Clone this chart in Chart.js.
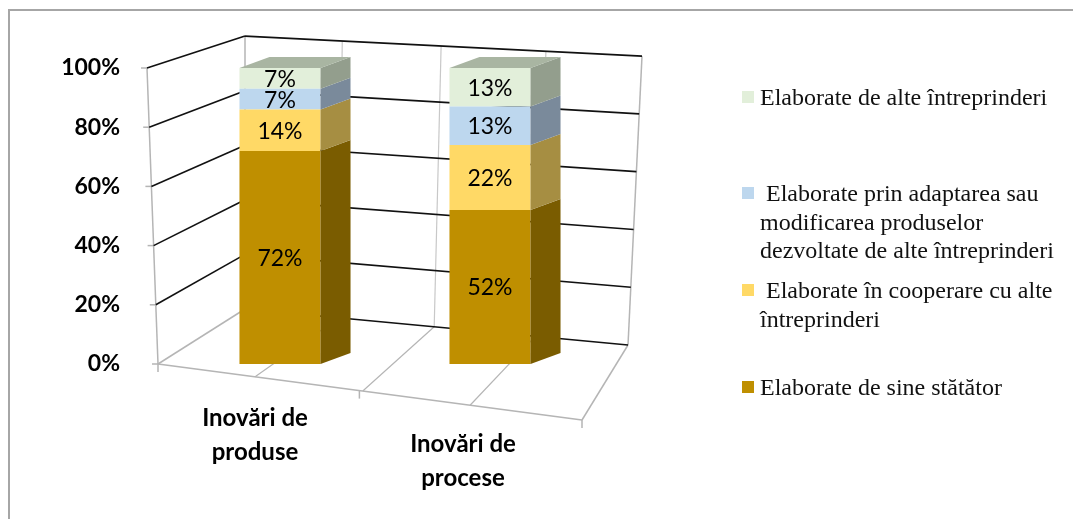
<!DOCTYPE html>
<html>
<head>
<meta charset="utf-8">
<script src="https://cdn.jsdelivr.net/npm/chart.js@4.4.1/dist/chart.umd.min.js"></script>
<style>
body { margin: 0; background: #fff; }
#wrap { position: relative; width: 1073px; height: 519px; overflow: hidden; }
#frame { position: absolute; left: 8px; top: 9px; width: 1080px; height: 520px; border-top: 2px solid #a6a6a6; border-left: 2px solid #a6a6a6; }
canvas { position: absolute; left: 0; top: 0; }
#legend { position: absolute; left: 742px; top: 0; font-family: "Liberation Serif", serif; font-size: 24px; color: #111; }
.item { position: absolute; left: 0; width: 330px; line-height: 28.5px; }
.sw { position: absolute; left: 0; top: 8px; width: 12px; height: 12px; }
.txt { position: absolute; left: 18px; top: 0; width: 312px; white-space: pre-wrap; }
</style>
</head>
<body>
<div id="wrap">
  <div id="frame"></div>
  <canvas id="chart" width="1073" height="519"></canvas>
  <div id="legend"></div>
</div>
<script>
// categories and series (bottom of stack first)
const categories = [['Inovări de', 'produse'], ['Inovări de', 'procese']];
const seriesNames = [
  'Elaborate de sine stătător',
  ' Elaborate în cooperare cu alte întreprinderi',
  ' Elaborate prin adaptarea sau modificarea produselor dezvoltate de alte întreprinderi',
  'Elaborate de alte întreprinderi'
];
const ownValues = [72, 52];
const coopValues = [14, 22];
const adaptedValues = [7, 13];
const othersValues = [7, 13];
const yTicks = [0, 20, 40, 60, 80, 100];

const frontColors = ['#bf8f00', '#ffd966', '#bdd7ee', '#e2efda'];
const sideColors = ['#7a5c00', '#a68e42', '#7a8a9b', '#939e8d'];
const topColor = '#a9b5a2';
const DX = 30, DY = -11;

// 3D box, walls and floor drawn behind the bars
const wallsPlugin = {
  id: 'walls',
  beforeDatasetsDraw(chart) {
    const { ctx, chartArea: a, scales: { y } } = chart;
    const y0 = y.getPixelForValue(0), y100 = y.getPixelForValue(100);
    const fl = v => {
      const py = y.getPixelForValue(v);
      return [a.left - 17 - 11 * (y0 - py) / (y0 - y100), py];
    };
    const bl = v => [a.left + 70, a.bottom - 55 - (a.bottom - y.getPixelForValue(v)) * 0.922];
    const br = v => {
      const d = (a.bottom - y.getPixelForValue(v));
      return [a.right + 33 + 14 * d / (y0 - y100), a.bottom - 19 - d * 0.976];
    };
    const fr = [a.right - 13, a.bottom + 56];
    const lerp = (p, q, t) => [p[0] + (q[0] - p[0]) * t, p[1] + (q[1] - p[1]) * t];
    const line = (p, q, color, w) => {
      ctx.beginPath();
      ctx.moveTo(p[0], p[1]);
      ctx.lineTo(q[0], q[1]);
      ctx.strokeStyle = color;
      ctx.lineWidth = w;
      ctx.stroke();
    };
    const gray = '#b5b5b5', dark = '#111';
    ctx.save();
    // floor
    line(fl(0), fr, gray, 1.5);
    line(fl(0), bl(0), gray, 1.5);
    line(fr, br(0), gray, 1.5);
    [0.229, 0.483, 0.736].forEach((t, i) => {
      const bt = [0.245, 0.494, 0.758][i];
      line(lerp(fl(0), fr, t), lerp(bl(0), br(0), bt), gray, 1.2);
    });
    [0, 0.475, 1].forEach(t => {
      const p = lerp(fl(0), fr, t);
      line(p, [p[0], p[1] + 8], gray, 1.5);
    });
    // back wall verticals
    line(bl(0), bl(100), gray, 1.5);
    line(br(0), br(100), gray, 1.5);
    [0.245, 0.494, 0.758].forEach(t => {
      line(lerp(bl(0), br(0), t), lerp(bl(100), br(100), t), '#c8c8c8', 1.2);
    });
    // front left axis with ticks
    line(fl(0), fl(100), gray, 1.5);
    yTicks.forEach(v => {
      const p = fl(v);
      line(p, [p[0] - 6, p[1]], gray, 1.5);
    });
    // gridlines
    yTicks.forEach(v => {
      if (v > 0) line(fl(v), bl(v), dark, 1.6);
      line(bl(v), br(v), dark, 1.6);
    });
    ctx.restore();
  },
  afterDatasetsDraw(chart) {
    const { ctx } = chart;
    const n = chart.data.datasets.length;
    ctx.save();
    chart.data.datasets.forEach((ds, di) => {
      chart.getDatasetMeta(di).data.forEach((bar, i) => {
        const { x, y, base, width } = bar.getProps(['x', 'y', 'base', 'width'], true);
        const r = x + width / 2, l = x - width / 2;
        // side face
        ctx.beginPath();
        ctx.moveTo(r, y);
        ctx.lineTo(r + DX, y + DY);
        ctx.lineTo(r + DX, base + DY);
        ctx.lineTo(r, base);
        ctx.closePath();
        ctx.fillStyle = sideColors[di];
        ctx.fill();
        // top face on last segment
        if (di === n - 1) {
          ctx.beginPath();
          ctx.moveTo(l, y);
          ctx.lineTo(l + DX, y + DY);
          ctx.lineTo(r + DX, y + DY);
          ctx.lineTo(r, y);
          ctx.closePath();
          ctx.fillStyle = topColor;
          ctx.fill();
        }
        // value label
        ctx.fillStyle = '#000';
        ctx.font = '23px Lato';
        ctx.textAlign = 'center';
        ctx.textBaseline = 'middle';
        ctx.fillText(ds.data[i] + '%', x, (y + base) / 2 + 1);
      });
    });
    ctx.restore();
  },
  afterDraw(chart) {
    const { ctx, scales: { x } } = chart;
    const offs = [[-25, 418], [-27, 444]];
    ctx.save();
    ctx.fillStyle = '#000';
    ctx.font = 'bold 24px Lato';
    ctx.textAlign = 'center';
    ctx.textBaseline = 'middle';
    categories.forEach((lab, i) => {
      const cx = x.getPixelForValue(i) + offs[i][0];
      lab.forEach((t, k) => ctx.fillText(t, cx, offs[i][1] + k * 34));
    });
    ctx.restore();
  }
};

const seriesData = [ownValues, coopValues, adaptedValues, othersValues];

new Chart(document.getElementById('chart'), {
  type: 'bar',
  data: {
    labels: categories.map(c => c.join(' ')),
    datasets: seriesData.map((d, i) => ({
      label: seriesNames[i],
      data: d,
      backgroundColor: frontColors[i],
      borderWidth: 0,
      barPercentage: 0.386,
      categoryPercentage: 1
    }))
  },
  options: {
    responsive: false,
    animation: false,
    devicePixelRatio: 1,
    layout: { padding: { left: 0, top: 68, right: 478, bottom: 155 } },
    plugins: { legend: { display: false }, tooltip: { enabled: false } },
    scales: {
      x: { stacked: true, display: false, offset: true },
      y: {
        stacked: true,
        min: 0,
        max: 100,
        grid: { display: false },
        border: { display: false },
        afterFit: s => { s.width = 175; },
        ticks: {
          stepSize: 20,
          padding: 47,
          color: '#000',
          font: { family: 'Lato', weight: 'bold', size: 23 },
          callback: v => v + '%'
        }
      }
    }
  },
  plugins: [wallsPlugin]
});

// legend, top item first
const legendTops = [83, 179, 276, 373];
const legend = document.getElementById('legend');
[3, 2, 1, 0].forEach((si, k) => {
  const item = document.createElement('div');
  item.className = 'item';
  item.style.top = legendTops[k] + 'px';
  item.innerHTML = '<div class="sw" style="background:' + frontColors[si] + '"></div><div class="txt"></div>';
  item.querySelector('.txt').textContent = seriesNames[si];
  legend.appendChild(item);
});
</script>
</body>
</html>
